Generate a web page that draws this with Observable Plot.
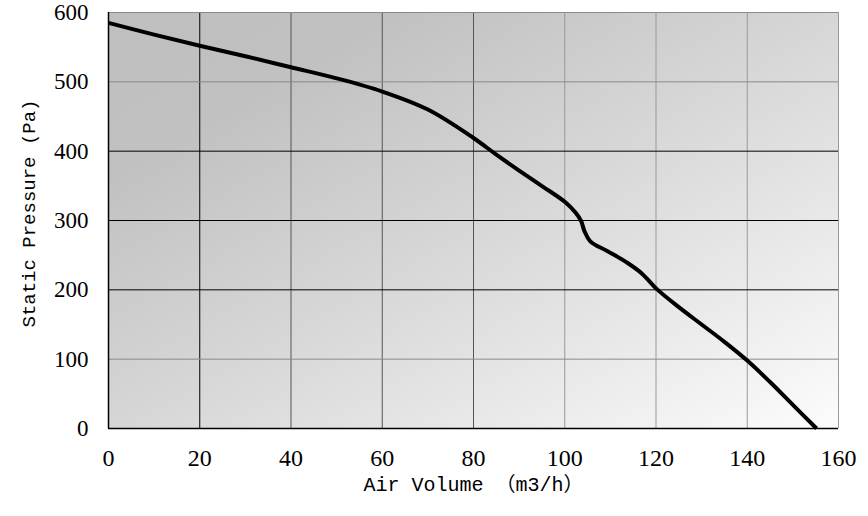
<!DOCTYPE html>
<html>
<head>
<meta charset="utf-8">
<script src="https://cdn.jsdelivr.net/npm/d3@7"></script>
<script src="https://cdn.jsdelivr.net/npm/@observablehq/plot@0.6"></script>
<style>
  html, body { margin: 0; padding: 0; background: #fff; }
</style>
</head>
<body>
<div id="chart"></div>
<script>
// Air volume (m3/h) and static pressure (Pa)
const airVolume = [0, 10, 20, 30, 40, 50, 60, 70, 80, 85, 90, 94.7, 100.2, 102.4, 103.6, 104.3, 105.6, 109.3, 113.7, 117, 120.2, 125, 130, 135, 140, 145, 150, 155.2];
const staticPressure = [585, 568, 552, 537, 521, 505, 486, 460, 419, 395, 372, 351, 326, 311, 299, 285, 270, 256, 239, 223, 201, 175, 150, 125, 98, 67, 34, 0];

const xTicks = [0, 20, 40, 60, 80, 100, 120, 140, 160];
const yTicks = [0, 100, 200, 300, 400, 500, 600];

const xLabel = "Air Volume （m3/h）";
const yLabel = "Static Pressure (Pa)";

const curve = airVolume.map((v, i) => ({volume: v, pressure: staticPressure[i]}));

const serif = "'Liberation Serif', 'DejaVu Serif', serif";
const mono = "'Liberation Mono', 'Noto Sans CJK SC', monospace";

const chart = Plot.plot({
  width: 868,
  height: 516,
  marginLeft: 108,
  marginRight: 30,
  marginTop: 12,
  marginBottom: 88,
  style: {background: "#fff", color: "#000", overflow: "visible"},
  x: {domain: [0, 160], ticks: xTicks, label: null},
  y: {domain: [0, 600], ticks: yTicks, label: null},
  marks: [
    Plot.frame({fill: "url(#bgGrad)", stroke: null}),
    Plot.ruleX(xTicks.filter(d => d > 0), {
      x: d => d,
      stroke: d => d <= 20 ? "#000" : d <= 80 ? "#555" : "#999",
      strokeWidth: 1
    }),
    Plot.ruleY(yTicks.filter(d => d > 0), {
      y: d => d,
      stroke: d => (d === 200 || d === 300 || d === 400) ? "#000" : "#8a8a8a",
      strokeWidth: 1
    }),
    Plot.ruleX([0], {stroke: "#000", strokeWidth: 1.5}),
    Plot.ruleY([0], {stroke: "#000", strokeWidth: 1.5}),
    Plot.line(curve, {
      x: "volume", y: "pressure",
      curve: "catmull-rom",
      stroke: "#000", strokeWidth: 4, strokeLinejoin: "round", strokeLinecap: "butt"
    }),
    Plot.axisX({
      ticks: xTicks, tickSize: 0, tickPadding: 20,
      fontSize: 24, fontFamily: serif, label: null
    }),
    Plot.axisY({
      ticks: yTicks, tickSize: 0, tickPadding: 20,
      fontSize: 23, fontFamily: serif, label: null
    }),
    Plot.text([xLabel], {
      frameAnchor: "bottom", dy: 62,
      text: d => d, fontFamily: mono, fontSize: 20, fill: "#000"
    }),
    Plot.text([yLabel], {
      frameAnchor: "left", dx: -80, dy: -7, rotate: -90, textAnchor: "middle",
      text: d => d, fontFamily: mono, fontSize: 19, fill: "#000"
    })
  ]
});

// gradient definition for the plot background
const ns = "http://www.w3.org/2000/svg";
const defs = document.createElementNS(ns, "defs");
const grad = document.createElementNS(ns, "linearGradient");
grad.setAttribute("id", "bgGrad");
grad.setAttribute("x1", "0"); grad.setAttribute("y1", "0");
grad.setAttribute("x2", "1"); grad.setAttribute("y2", "1");
[["0", "#bfbfbf"], ["0.2", "#c1c1c1"], ["0.5", "#d6d6d6"], ["1", "#fcfcfc"]].forEach(([o, c]) => {
  const s = document.createElementNS(ns, "stop");
  s.setAttribute("offset", o);
  s.setAttribute("stop-color", c);
  grad.appendChild(s);
});
defs.appendChild(grad);
chart.insertBefore(defs, chart.firstChild);

document.getElementById("chart").appendChild(chart);
</script>
</body>
</html>
